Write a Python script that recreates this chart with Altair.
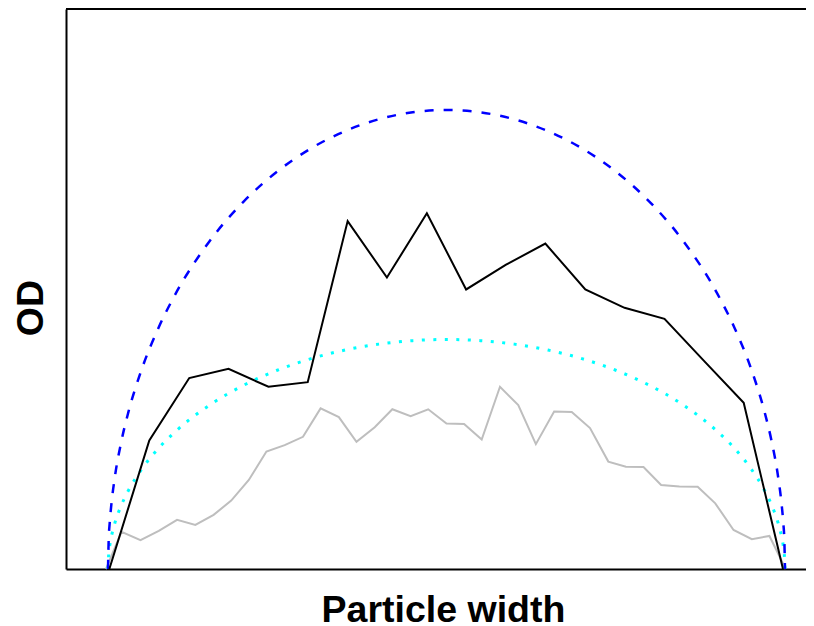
import altair as alt
import pandas as pd

# Measured profile (black) across the particle width
black_x = [0.2, 6.1, 12.0, 17.8, 23.7, 29.5, 35.4, 41.2, 47.1, 52.9,
           58.8, 64.6, 70.5, 76.3, 82.2, 88.0, 93.9, 99.7]
black_y = [0.0, 0.280, 0.416, 0.436, 0.397, 0.407, 0.758, 0.635, 0.775, 0.609,
           0.663, 0.709, 0.609, 0.569, 0.545, 0.454, 0.362, 0.0]

# Finer measured profile (grey)
gray_x = [-0.3, 2.0, 4.8, 7.5, 10.2, 12.9, 15.6, 18.2, 20.8, 23.4, 26.1, 28.8,
          31.4, 34.1, 36.7, 39.4, 42.0, 44.7, 47.3, 50.0, 52.6, 55.2, 57.9,
          60.6, 63.2, 65.9, 68.5, 71.2, 73.9, 76.5, 79.1, 81.7, 84.4, 87.1,
          89.7, 92.4, 95.1, 97.7, 100.1]
gray_y = [0.0, 0.081, 0.063, 0.083, 0.107, 0.096, 0.118, 0.149, 0.194, 0.256,
          0.270, 0.288, 0.350, 0.331, 0.277, 0.309, 0.348, 0.333, 0.348, 0.317,
          0.316, 0.282, 0.397, 0.357, 0.272, 0.343, 0.342, 0.307, 0.234, 0.223,
          0.222, 0.183, 0.180, 0.179, 0.143, 0.085, 0.065, 0.072, 0.0]

# Model curves (blue dashed, cyan dotted) read at these widths
curve_x = [0, 0.1, 0.25, 0.5, 1, 2, 3, 5, 7.5, 10, 15, 20, 25, 30, 35, 40, 45, 50,
           55, 60, 65, 70, 75, 80, 85, 90, 92.5, 95, 97, 98, 99, 99.5, 99.75, 99.9, 100]
upper_y = [0, 0.0632, 0.0999, 0.1411, 0.199, 0.28, 0.3412, 0.4359, 0.5268, 0.6,
           0.7141, 0.8, 0.866, 0.9165, 0.9539, 0.9798, 0.995, 1.0,
           0.995, 0.9798, 0.9539, 0.9165, 0.866, 0.8, 0.7141, 0.6, 0.5268,
           0.4359, 0.3412, 0.28, 0.199, 0.1411, 0.0999, 0.0632, 0]
lower_y = [0, 0.0316, 0.05, 0.0706, 0.0995, 0.14, 0.1706, 0.218, 0.2634, 0.3,
           0.357, 0.4, 0.433, 0.4583, 0.477, 0.4899, 0.4975, 0.5,
           0.4975, 0.4899, 0.477, 0.4583, 0.433, 0.4, 0.357, 0.3, 0.2634,
           0.218, 0.1706, 0.14, 0.0995, 0.0706, 0.05, 0.0316, 0]

X_DOMAIN = [-6.204, 103.102]
Y_DOMAIN = [0, 1.22004]

xs = alt.Scale(domain=X_DOMAIN, nice=False, zero=False)
ys = alt.Scale(domain=Y_DOMAIN, nice=False, zero=False)

FONT = "Liberation Sans"

xaxis = alt.Axis(title="Particle width", domain=True, domainColor="black",
                 domainWidth=2, ticks=False, labels=False, grid=False,
                 titleFont=FONT, titleFontSize=37.5, titleFontWeight="bold",
                 titleColor="black", titleX=377, titleY=52,
                 titleAlign="center", titleBaseline="alphabetic")
yaxis = alt.Axis(title="OD", domain=True, domainColor="black",
                 domainWidth=2, ticks=False, labels=False, grid=False,
                 titleFont=FONT, titleFontSize=37.5, titleFontWeight="bold",
                 titleColor="black", titleAngle=270, titleX=-24, titleY=298.5,
                 titleAlign="center", titleBaseline="alphabetic")


def enc(chart):
    return chart.encode(
        x=alt.X("x:Q", scale=xs, axis=xaxis),
        y=alt.Y("y:Q", scale=ys, axis=yaxis),
        order="i:Q",
    )


def frame(xv, yv):
    return pd.DataFrame({"x": xv, "y": yv, "i": list(range(len(xv)))})


gray = enc(alt.Chart(frame(gray_x, gray_y)).mark_line(color="#BEBEBE", strokeWidth=2))
cyan = enc(alt.Chart(frame(curve_x, lower_y)).mark_line(
    color="#00FFFF", strokeWidth=3, strokeDash=[3, 8.5], interpolate="monotone"))
blue = enc(alt.Chart(frame(curve_x, upper_y)).mark_line(
    color="#0000FF", strokeWidth=2.5, strokeDash=[9, 10], interpolate="monotone"))
black = enc(alt.Chart(frame(black_x, black_y)).mark_line(color="black", strokeWidth=2))

top = alt.Chart(pd.DataFrame({"y": [Y_DOMAIN[1]]})).mark_rule(
    color="black", strokeWidth=2).encode(y=alt.Y("y:Q", scale=ys, axis=yaxis))

chart = alt.layer(gray, cyan, blue, black, top).properties(
    width=740, height=560,
    autosize=alt.AutoSizeParams(type="none"),
    padding={"left": 58, "top": 1, "right": 0, "bottom": 57},
    background="white",
).configure_view(strokeWidth=0)

chart.save("out.html", embed_options={"renderer": "svg", "actions": False})
